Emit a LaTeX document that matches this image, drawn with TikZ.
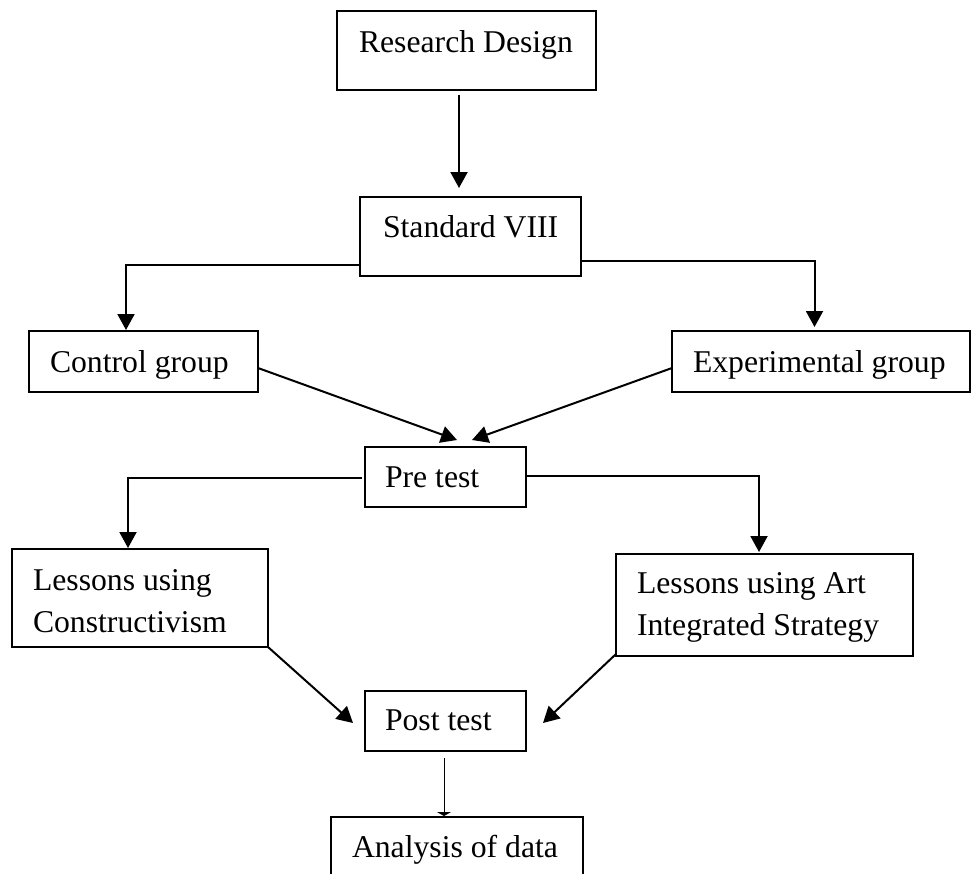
\documentclass[tikz,border=0pt]{standalone}
\usepackage{fontspec}
\setmainfont{Liberation Serif}
\usetikzlibrary{arrows.meta,calc}
\begin{document}
\begin{tikzpicture}[x=0.5pt,y=-0.5pt,
  box/.style={draw=black,line width=1pt,rectangle,inner sep=0pt,outer sep=0pt,anchor=north west},
  lbl/.style={inner sep=0pt,outer sep=0pt,anchor=base west,align=left,font=\fontsize{15.85pt}{21pt}\selectfont},
  arr/.style={line width=1pt,-{Triangle[length=8pt,width=8.5pt]}},
  thinarr/.style={line width=0.5pt,-{Triangle[length=2pt,width=7pt]}}]
\useasboundingbox (0,0) rectangle (972,873);
\clip (0,0) rectangle (972,873);
% boxes
\node[box,minimum width=129.5pt,minimum height=39.5pt] (rd) at (337,11) {};
\node[box,minimum width=110.5pt,minimum height=39.5pt] (std) at (360,197) {};
\node[box,minimum width=114.5pt,minimum height=30.5pt] (ctrl) at (29,331) {};
\node[box,minimum width=149pt,minimum height=30.5pt] (exp) at (672,331) {};
\node[box,minimum width=80.5pt,minimum height=30pt] (pre) at (365,447) {};
\node[box,minimum width=128pt,minimum height=49pt] (cons) at (12,549) {};
\node[box,minimum width=148.5pt,minimum height=51pt] (art) at (616,554) {};
\node[box,minimum width=80.5pt,minimum height=30pt] (post) at (365,691) {};
\node[box,minimum width=126pt,minimum height=40pt] (ana) at (331,817) {};
% texts
\node[lbl] (rdt) at (359,52) {Research Design};
\node[lbl] (stdt) at (383,237) {Standard VIII};
\node[lbl] (ctrlt) at (50,372) {Control group};
\node[lbl] (expt) at (693,372) {Experimental group};
\node[lbl] (pret) at (385,487) {Pre test};
\node[lbl] (const) at (33,632) {Lessons using\\Constructivism};
\node[lbl] (artt) at (637,635) {Lessons using Art\\Integrated Strategy};
\node[lbl] (postt) at (385,730) {Post test};
\node[lbl] (anat) at (352,857) {Analysis of data};
% connectors
\draw[arr] ([xshift=-3.75pt,yshift=-2.5pt]rd.south) -- ++(0,93);
\draw[arr] ([yshift=-14.25pt]std.west) -| ([xshift=-8.75pt,yshift=0.5pt]ctrl.north);
\draw[arr] ([yshift=-12.25pt]std.east) -| ([xshift=-3.25pt,yshift=2pt]exp.north);
\draw[arr] ([yshift=-3.25pt]ctrl.east) -- ([xshift=5.75pt,yshift=3.5pt]pre.north);
\draw[arr] ([yshift=-3.25pt]exp.west) -- ([xshift=13.25pt,yshift=3.5pt]pre.north);
\draw[arr] ([xshift=-1.5pt,yshift=-0.5pt]pre.west) -| ([xshift=-6pt,yshift=0.5pt]cons.north);
\draw[arr] ([yshift=0.5pt]pre.east) -| ([xshift=-2.75pt,yshift=1pt]art.north);
\draw[arr] (cons.south east) -- ([xshift=-6pt,yshift=-1pt]post.west);
\draw[arr] ([yshift=1pt]art.south west) -- ([xshift=8.5pt,yshift=-1pt]post.east);
\draw[thinarr] ([xshift=-0.75pt,yshift=-3.5pt]post.south) -- ([xshift=-6.5pt,yshift=0.5pt]ana.north);
\end{tikzpicture}
\end{document}
